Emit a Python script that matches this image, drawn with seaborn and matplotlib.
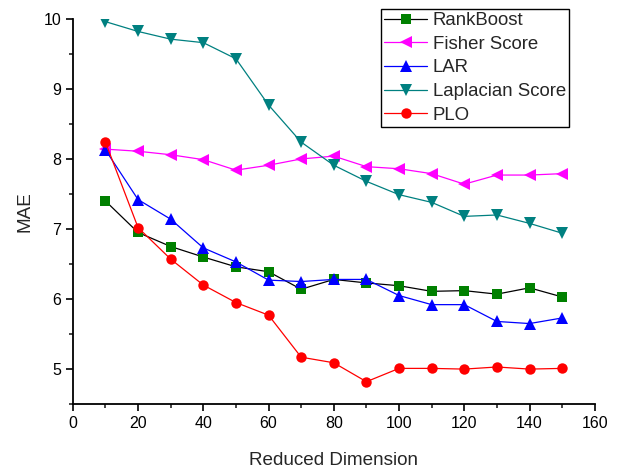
import matplotlib
matplotlib.use("Agg")
import matplotlib.pyplot as plt
import seaborn as sns
import pandas as pd
from matplotlib.ticker import MultipleLocator

dims = [10, 20, 30, 40, 50, 60, 70, 80, 90, 100, 110, 120, 130, 140, 150]
rankboost = [7.40, 6.95, 6.75, 6.60, 6.46, 6.39, 6.14, 6.28, 6.23, 6.19, 6.11, 6.12, 6.07, 6.16, 6.03]
fisher = [8.14, 8.11, 8.06, 7.99, 7.84, 7.91, 8.00, 8.04, 7.89, 7.86, 7.79, 7.64, 7.77, 7.77, 7.79]
lar = [8.13, 7.42, 7.14, 6.73, 6.53, 6.27, 6.25, 6.28, 6.28, 6.05, 5.92, 5.92, 5.68, 5.65, 5.73]
laplacian = [9.96, 9.82, 9.71, 9.66, 9.43, 8.77, 8.24, 7.91, 7.68, 7.49, 7.38, 7.18, 7.20, 7.08, 6.94]
plo = [8.24, 7.02, 6.57, 6.20, 5.95, 5.77, 5.17, 5.09, 4.82, 5.01, 5.01, 5.00, 5.03, 5.00, 5.01]

sns.set_style("ticks")
plt.rcParams['font.family'] = ['Liberation Sans', 'DejaVu Sans']

fig = plt.figure(figsize=(6.17, 4.71), dpi=100)
ax = fig.add_axes([0.118, 0.142, 0.846, 0.818])

series = [
    ("RankBoost", rankboost, "black", "#008000", "s", 6.5),
    ("Fisher Score", fisher, "#FF00FF", "#FF00FF", "<", 8),
    ("LAR", lar, "#0000FF", "#0000FF", "^", 8),
    ("Laplacian Score", laplacian, "#008080", "#008080", "v", 8),
    ("PLO", plo, "#FF0000", "#FF0000", "o", 7.5),
]
for name, vals, lc, mc, mk, ms in series:
    df = pd.DataFrame({"dim": dims, "mae": vals})
    sns.lineplot(data=df, x="dim", y="mae", ax=ax, color=lc, lw=0.9,
                 marker=mk, markersize=ms, markerfacecolor=mc,
                 markeredgecolor=mc, markeredgewidth=0, label=name)

ax.set_xlim(0, 160)
ax.set_ylim(4.5, 10)
ax.xaxis.set_major_locator(MultipleLocator(20))
ax.xaxis.set_minor_locator(MultipleLocator(10))
ax.yaxis.set_major_locator(MultipleLocator(1))
ax.yaxis.set_minor_locator(MultipleLocator(0.5))
ax.set_yticks([5, 6, 7, 8, 9, 10])
ax.tick_params(which='major', direction='out', length=5, width=1.2, labelsize=11.5, colors='black')
ax.tick_params(which='minor', direction='out', length=3, width=1.2)
for s in ['top', 'right']:
    ax.spines[s].set_visible(False)
for s in ['left', 'bottom']:
    ax.spines[s].set_linewidth(1.3)
    ax.spines[s].set_color('black')
ax.set_xlabel("Reduced Dimension", fontsize=13.6, labelpad=15)
ax.set_ylabel("MAE", fontsize=13.6, labelpad=7)

leg = ax.legend(loc='upper right', bbox_to_anchor=(0.950, 1.025), fontsize=13.4,
                frameon=True, fancybox=False, edgecolor='black', framealpha=1,
                handlelength=2.3, handletextpad=0.3, borderpad=0.15, labelspacing=0.36,
                borderaxespad=0)
leg.get_frame().set_linewidth(1.0)

fig.savefig("out.png", dpi=100)
